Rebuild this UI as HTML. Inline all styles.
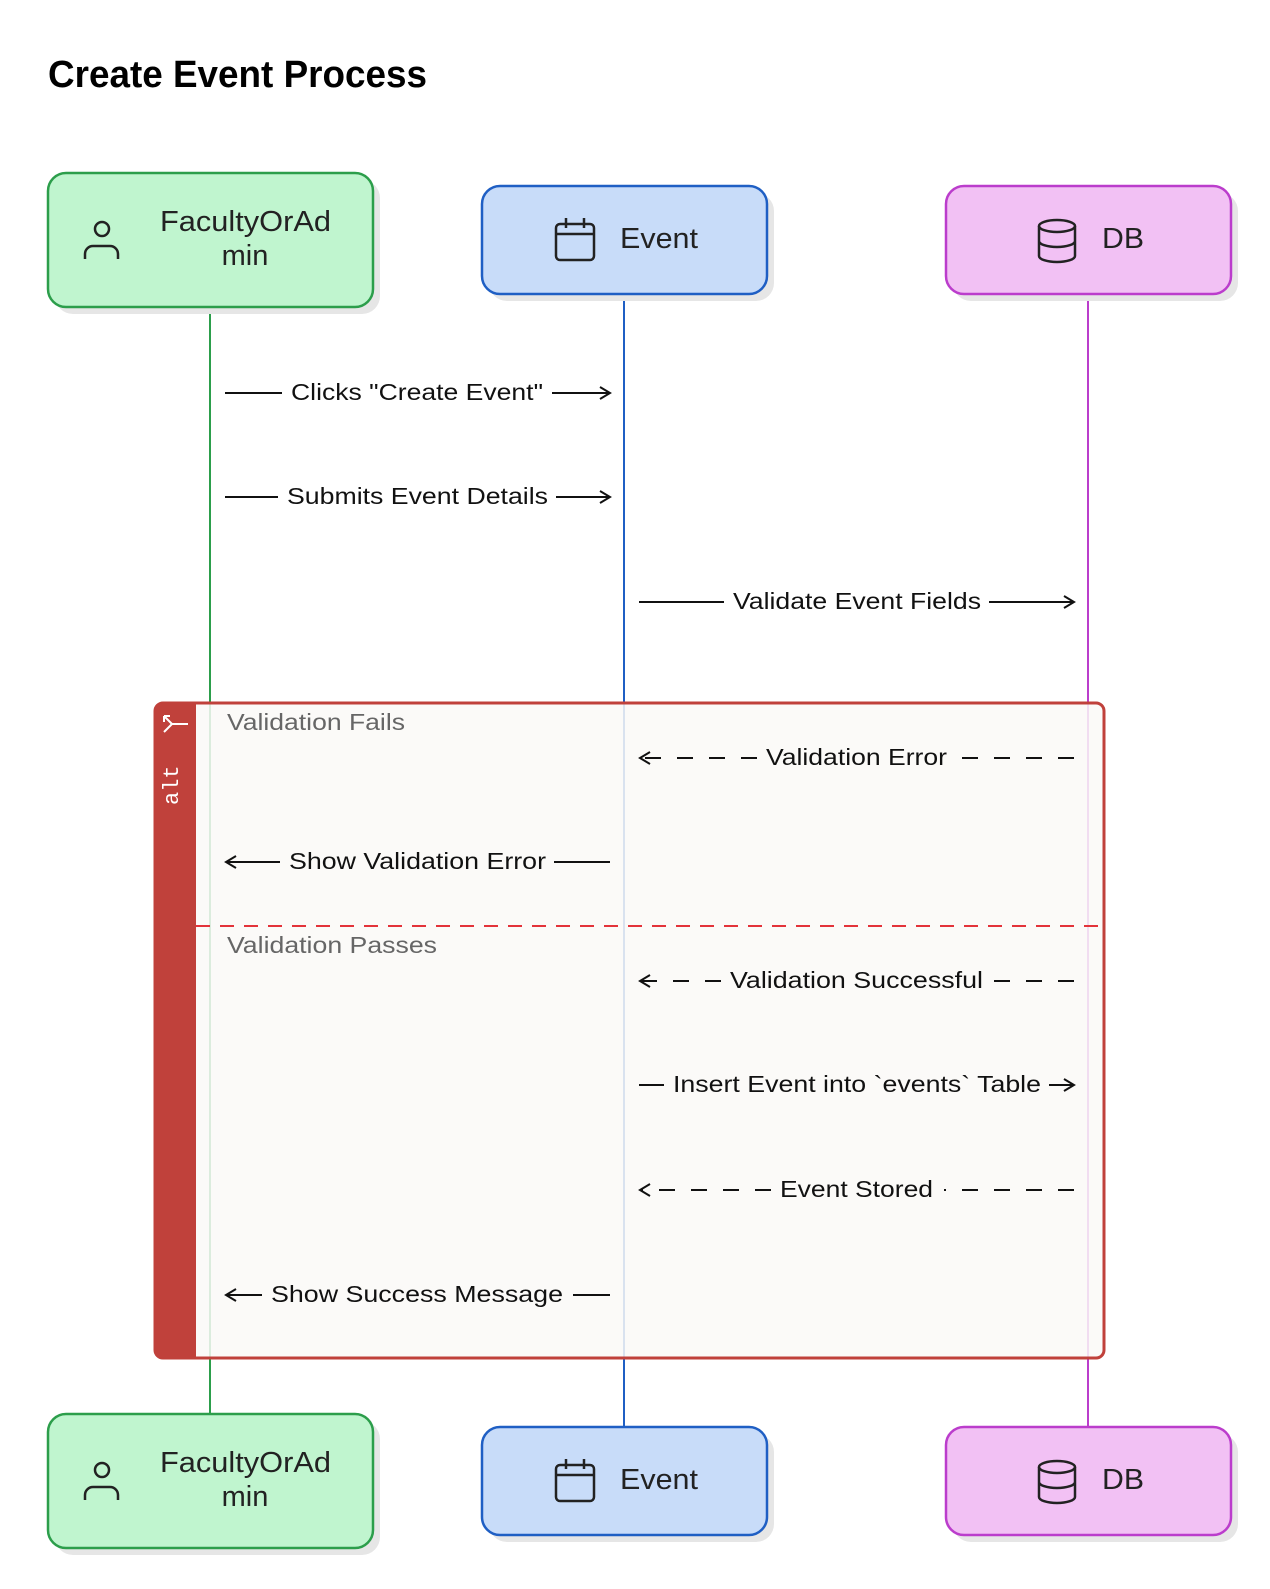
<!DOCTYPE html>
<html><head><meta charset="utf-8"><style>
body{margin:0;background:#fff}
svg{display:block;font-family:"Liberation Sans",Arial,sans-serif}
</style></head><body>
<svg width="1270" height="1589" viewBox="0 0 1270 1589" xmlns="http://www.w3.org/2000/svg">
<defs>
<marker id="ah" markerWidth="14" markerHeight="14" refX="12" refY="7" orient="auto" markerUnits="userSpaceOnUse">
<path d="M2,1 L12,7 L2,13" fill="none" stroke="#111" stroke-width="2"/></marker>
</defs>
<text x="48" y="87" font-size="38" font-weight="bold" fill="#000" textLength="379" lengthAdjust="spacingAndGlyphs">Create Event Process</text>

<line x1="210" y1="306" x2="210" y2="1415" stroke="#2c9e4b" stroke-width="2"/>
<line x1="624" y1="294" x2="624" y2="1428" stroke="#1f5fc4" stroke-width="2"/>
<line x1="1088" y1="294" x2="1088" y2="1428" stroke="#bb3dcc" stroke-width="2"/>

<rect x="155" y="703" width="949" height="655" rx="8" fill="#faf9f7" fill-opacity="0.85" stroke="#c0413b" stroke-width="3"/>
<path d="M163,703 H196 V1358 H163 a8,8 0 0 1 -8,-8 V711 a8,8 0 0 1 8,-8z" fill="#c0413b"/>
<text transform="translate(178,805) rotate(-90)" font-family="Liberation Mono,monospace" font-size="22" fill="#fff">alt</text>
<path d="M164,716 l8,8 M164,716 v6 M164,716 h6 M172,724 l-8,8 M172,724 h16" stroke="#fff" stroke-width="2" fill="none"/>
<text x="227" y="730" font-size="23" fill="#666" textLength="178" lengthAdjust="spacingAndGlyphs">Validation Fails</text>
<line x1="196" y1="926" x2="1104" y2="926" stroke="#e3333a" stroke-width="2" stroke-dasharray="14,10"/>
<text x="227" y="953" font-size="23" fill="#666" textLength="210" lengthAdjust="spacingAndGlyphs">Validation Passes</text>

<g font-size="23" fill="#111" stroke="#111" stroke-width="2">
<line x1="225" y1="393" x2="282" y2="393"/><line x1="552" y1="393" x2="610" y2="393" marker-end="url(#ah)"/>
<text x="291" y="400" stroke="none" textLength="252" lengthAdjust="spacingAndGlyphs">Clicks "Create Event"</text>
<line x1="225" y1="497" x2="278" y2="497"/><line x1="556" y1="497" x2="610" y2="497" marker-end="url(#ah)"/>
<text x="287" y="504" stroke="none" textLength="261" lengthAdjust="spacingAndGlyphs">Submits Event Details</text>
<line x1="639" y1="602" x2="724" y2="602"/><line x1="989" y1="602" x2="1074" y2="602" marker-end="url(#ah)"/>
<text x="733" y="609" stroke="none" textLength="248" lengthAdjust="spacingAndGlyphs">Validate Event Fields</text>
<line x1="757" y1="758" x2="640" y2="758" stroke-dasharray="16,16" marker-end="url(#ah)"/><line x1="1074" y1="758" x2="956" y2="758" stroke-dasharray="16,16"/>
<text x="766" y="765" stroke="none" textLength="181" lengthAdjust="spacingAndGlyphs">Validation Error</text>
<line x1="280" y1="862" x2="226" y2="862" marker-end="url(#ah)"/><line x1="554" y1="862" x2="610" y2="862"/>
<text x="289" y="869" stroke="none" textLength="257" lengthAdjust="spacingAndGlyphs">Show Validation Error</text>
<line x1="721" y1="981" x2="640" y2="981" stroke-dasharray="16,16" marker-end="url(#ah)"/><line x1="1074" y1="981" x2="992" y2="981" stroke-dasharray="16,16"/>
<text x="730" y="988" stroke="none" textLength="253" lengthAdjust="spacingAndGlyphs">Validation Successful</text>
<line x1="639" y1="1085" x2="664" y2="1085"/><line x1="1049" y1="1085" x2="1074" y2="1085" marker-end="url(#ah)"/>
<text x="673" y="1092" stroke="none" textLength="368" lengthAdjust="spacingAndGlyphs">Insert Event into `events` Table</text>
<line x1="771" y1="1190" x2="640" y2="1190" stroke-dasharray="16,16" marker-end="url(#ah)"/><line x1="1074" y1="1190" x2="944" y2="1190" stroke-dasharray="16,16"/>
<text x="780" y="1197" stroke="none" textLength="153" lengthAdjust="spacingAndGlyphs">Event Stored</text>
<line x1="262" y1="1295" x2="226" y2="1295" marker-end="url(#ah)"/><line x1="573" y1="1295" x2="610" y2="1295"/>
<text x="271" y="1302" stroke="none" textLength="292" lengthAdjust="spacingAndGlyphs">Show Success Message</text>
</g>

<g id="top">
<rect x="55" y="180" width="325" height="134" rx="18" fill="#e6e6e6"/>
<rect x="48" y="173" width="325" height="134" rx="18" fill="#c0f5cf" stroke="#2c9e4b" stroke-width="2.5"/>
<circle cx="102" cy="229" r="7" fill="none" stroke="#222" stroke-width="2.5"/>
<path d="M85,259 v-5 a8,8 0 0 1 8,-8 h17 a8,8 0 0 1 8,8 v5" fill="none" stroke="#222" stroke-width="2.5"/>
<text x="160" y="231" font-size="29" fill="#222" textLength="171" lengthAdjust="spacingAndGlyphs">FacultyOrAd</text>
<text x="245" y="265" font-size="29" fill="#222" text-anchor="middle">min</text>

<rect x="489" y="193" width="285" height="108" rx="18" fill="#e6e6e6"/>
<rect x="482" y="186" width="285" height="108" rx="18" fill="#c8dcf9" stroke="#1f5fc4" stroke-width="2.5"/>
<rect x="556" y="224" width="38" height="36" rx="4" fill="none" stroke="#222" stroke-width="2.5"/>
<line x1="556" y1="234" x2="594" y2="234" stroke="#222" stroke-width="2.5"/>
<line x1="566" y1="218" x2="566" y2="228" stroke="#222" stroke-width="2.5"/><line x1="584" y1="218" x2="584" y2="228" stroke="#222" stroke-width="2.5"/>
<text x="620" y="248" font-size="29" fill="#222" textLength="78" lengthAdjust="spacingAndGlyphs">Event</text>

<rect x="953" y="193" width="285" height="108" rx="18" fill="#e6e6e6"/>
<rect x="946" y="186" width="285" height="108" rx="18" fill="#f2c1f4" stroke="#bb3dcc" stroke-width="2.5"/>
<ellipse cx="1057" cy="226" rx="18" ry="6" fill="none" stroke="#222" stroke-width="2.5"/>
<path d="M1039,226 v30 a18,6 0 0 0 36,0 v-30 M1039,241 a18,6 0 0 0 36,0" fill="none" stroke="#222" stroke-width="2.5"/>
<text x="1102" y="248" font-size="29" fill="#222" textLength="42" lengthAdjust="spacingAndGlyphs">DB</text>
</g>
<use href="#top" transform="translate(0,1241)"/>
</svg>
</body></html>
